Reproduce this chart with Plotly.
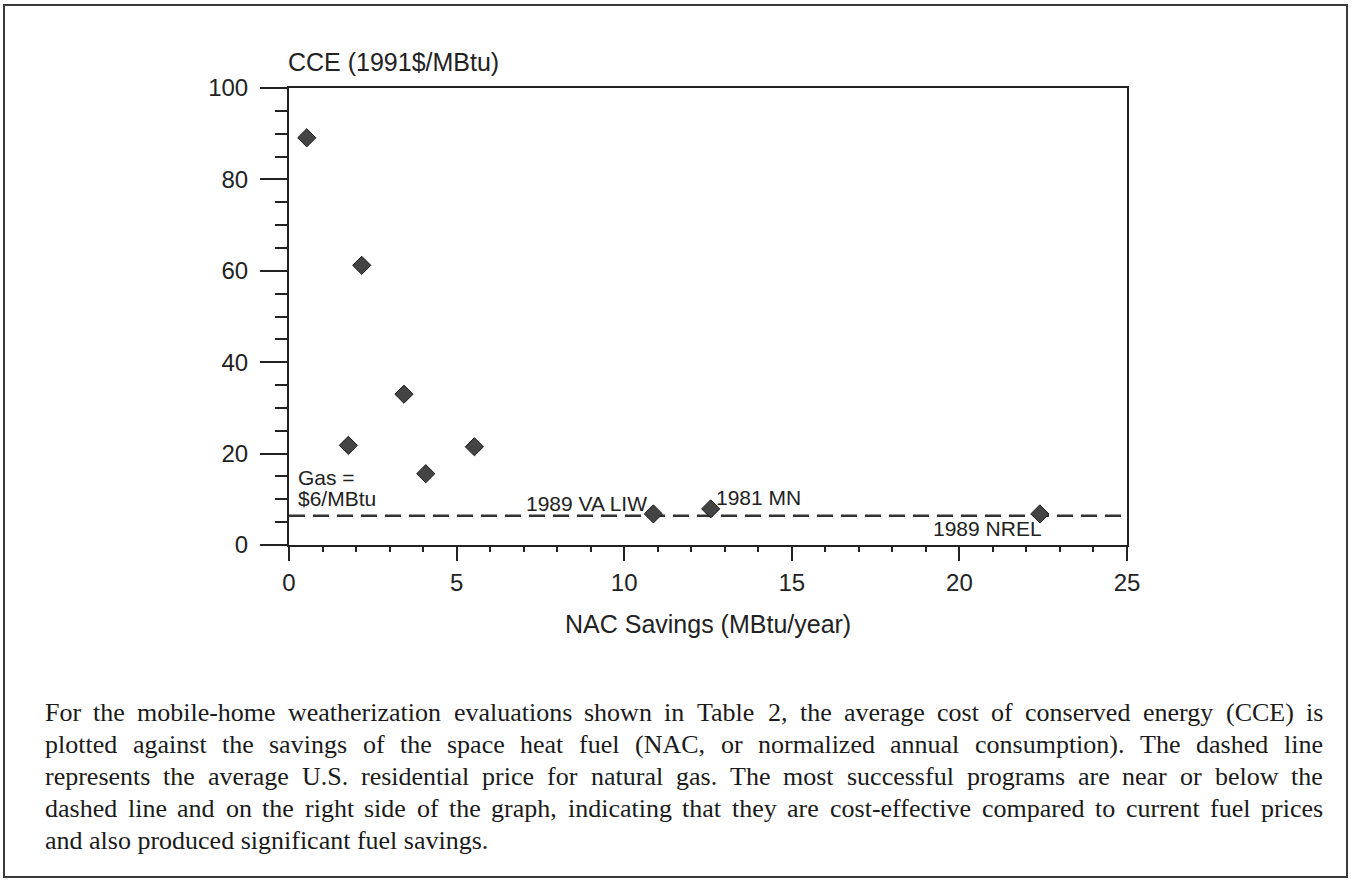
import plotly.graph_objects as go

# ---------------- data ----------------
nac_savings = [0.53, 2.17, 3.43, 1.77, 5.53, 4.08, 10.87, 12.58, 22.40]
cce_values = [89.1, 61.2, 33.0, 21.8, 21.5, 15.6, 6.8, 7.9, 6.8]
gas_price = 6.4
x_ticks = [0, 5, 10, 15, 20, 25]
y_ticks = [0, 20, 40, 60, 80, 100]
point_labels = {6: "1989 VA LIW", 7: "1981 MN", 8: "1989 NREL"}
caption_lines = [
    "For the mobile-home weatherization evaluations shown in Table 2, the average cost of conserved energy (CCE) is",
    "plotted against the savings of the space heat fuel (NAC, or normalized annual consumption). The dashed line",
    "represents the average U.S. residential price for natural gas. The most successful programs are near or below the",
    "dashed line and on the right side of the graph, indicating that they are cost-effective compared to current fuel prices",
    "and also produced significant fuel savings.",
]

# ---------------- layout geometry ----------------
W, H = 1351, 880
ML, MR, MT, MB = 289, 224, 88, 335
PW, PH = W - ML - MR, H - MT - MB


def px_x(p):
    return (p - ML) / PW


def px_y(p):
    return 1 - (p - MT) / PH


INK = "#222222"
SANS = "Liberation Sans, Arial, sans-serif"
SERIF = "Liberation Serif, Times New Roman, serif"

fig = go.Figure()

fig.add_trace(go.Scatter(
    x=[0, 25], y=[gas_price, gas_price], mode="lines",
    line=dict(color="#333333", width=2.5, dash="16px,8px"),
    hoverinfo="skip", showlegend=False,
))

fig.add_trace(go.Scatter(
    x=nac_savings, y=cce_values, mode="markers",
    marker=dict(symbol="diamond", size=14, color="#444444",
                line=dict(color="#1a1a1a", width=1)),
    showlegend=False,
))

axis_common = dict(
    showline=True, linecolor=INK, linewidth=2, mirror=True,
    showgrid=False, zeroline=False, ticks="outside", tickcolor=INK,
    tickwidth=2, tickfont=dict(family=SANS, size=24, color=INK),
)

fig.update_xaxes(
    range=[0, 25], tickvals=x_ticks, ticklen=14, ticklabelstandoff=1,
    minor=dict(dtick=1, ticklen=5, ticks="outside", tickcolor=INK, tickwidth=1.5),
    **axis_common,
)
fig.update_yaxes(
    range=[0, 100], tickvals=y_ticks, ticklen=27, ticklabelstandoff=7,
    minor=dict(dtick=5, ticklen=12, ticks="outside", tickcolor=INK, tickwidth=1.5),
    **axis_common,
)

annotations = []

# axis titles
annotations.append(dict(
    text="CCE (1991$/MBtu)", xref="paper", yref="paper", x=px_x(286), y=px_y(62),
    xanchor="left", yanchor="middle", showarrow=False,
    font=dict(family=SANS, size=25, color=INK),
))
annotations.append(dict(
    text="NAC Savings (MBtu/year)", xref="paper", yref="paper", x=0.5, y=px_y(624),
    xanchor="center", yanchor="middle", showarrow=False,
    font=dict(family=SANS, size=25, color=INK),
))

# gas label
annotations.append(dict(
    text="Gas =", xref="x", yref="paper", x=0, y=px_y(477), xshift=7,
    xanchor="left", yanchor="middle", showarrow=False,
    font=dict(family=SANS, size=21, color=INK),
))
annotations.append(dict(
    text="$6/MBtu", xref="x", yref="paper", x=0, y=px_y(498), xshift=7,
    xanchor="left", yanchor="middle", showarrow=False,
    font=dict(family=SANS, size=21, color=INK),
))

# point labels
label_style = {
    6: dict(xanchor="right", xshift=-4, yshift=10),
    7: dict(xanchor="left", xshift=3, yshift=11),
    8: dict(xanchor="right", xshift=4, yshift=-15),
}
for idx, txt in point_labels.items():
    st = label_style[idx]
    annotations.append(dict(
        text=txt, xref="x", yref="y", x=nac_savings[idx], y=cce_values[idx],
        xanchor=st["xanchor"], yanchor="middle", xshift=st["xshift"], yshift=st["yshift"],
        showarrow=False, font=dict(family=SANS, size=21, color=INK),
    ))

# caption (justified by placing each word)
TIMES = {' ': 250, '(': 333, ')': 333, ',': 250, '-': 333, '.': 250, '/': 278}
for d in "0123456789":
    TIMES[d] = 500
TIMES.update(dict(zip("ABCDEFGHIJKLMNOPQRSTUVWXYZ",
                      [722, 667, 667, 722, 611, 556, 722, 722, 333, 389, 722, 611, 889,
                       722, 722, 556, 722, 667, 556, 611, 722, 722, 944, 722, 722, 611])))
TIMES.update(dict(zip("abcdefghijklmnopqrstuvwxyz",
                      [444, 500, 444, 500, 444, 333, 500, 500, 278, 278, 500, 278, 778,
                       500, 500, 500, 500, 333, 389, 278, 500, 500, 722, 500, 500, 444])))

CAP_SIZE = 26
CAP_LEFT, CAP_RIGHT = 44, 1322
CAP_Y0, CAP_DY = 712, 32


def word_w(w):
    return sum(TIMES.get(c, 500) for c in w) / 1000 * CAP_SIZE


for li, line in enumerate(caption_lines):
    ypix = CAP_Y0 + li * CAP_DY
    if li == len(caption_lines) - 1:
        annotations.append(dict(
            text=line, xref="paper", yref="paper", x=px_x(CAP_LEFT), y=px_y(ypix),
            xanchor="left", yanchor="middle", showarrow=False, borderpad=0,
            font=dict(family=SERIF, size=CAP_SIZE, color="#1a1a1a"),
        ))
        continue
    words = line.split(" ")
    widths = [word_w(w) for w in words]
    gap = (CAP_RIGHT - CAP_LEFT - sum(widths)) / (len(words) - 1)
    pos = CAP_LEFT
    for w, ww in zip(words, widths):
        annotations.append(dict(
            text=w, xref="paper", yref="paper", x=px_x(pos), y=px_y(ypix),
            xanchor="left", yanchor="middle", showarrow=False, borderpad=0,
            font=dict(family=SERIF, size=CAP_SIZE, color="#1a1a1a"),
        ))
        pos += ww + gap

# outer frame
shapes = [dict(
    type="rect", xref="paper", yref="paper",
    x0=px_x(4), x1=px_x(1347), y0=px_y(877), y1=px_y(5),
    line=dict(color="#3a3a3a", width=2), fillcolor="rgba(0,0,0,0)", layer="below",
)]

fig.update_layout(
    width=W, height=H, autosize=False,
    margin=dict(l=ML, r=MR, t=MT, b=MB, pad=0),
    paper_bgcolor="white", plot_bgcolor="white",
    annotations=annotations, shapes=shapes, showlegend=False,
)

fig.write_html(
    "out.html",
    config={"displayModeBar": False},
    post_script="document.body.style.margin='0';document.body.style.overflow='hidden';",
)
